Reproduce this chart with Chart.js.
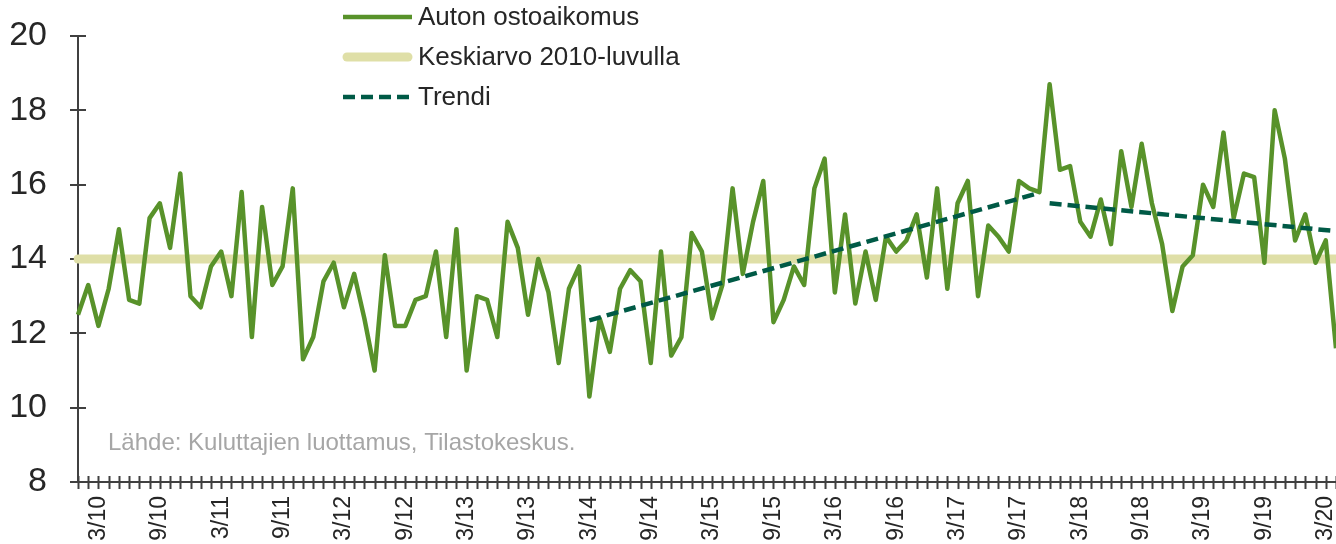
<!DOCTYPE html>
<html>
<head>
<meta charset="utf-8">
<script src="https://cdn.jsdelivr.net/npm/chart.js@4"></script>
<style>
  html, body { margin: 0; padding: 0; background: #fff; }
</style>
</head>
<body>
<canvas id="myChart" width="1336" height="544"></canvas>
<script>
'use strict';

// kuukausittain 1/2010 - 4/2020
let startYear = 2010;
let monthCount = 124;
let monthLabels = [];
for (let i = 0; i < monthCount; i++) {
    let m = (i % 12) + 1;
    let yy = (startYear + Math.floor(i / 12)) % 100;
    monthLabels.push(m + '/' + String(yy).padStart(2, '0'));
}
let shownMonths = [3, 9];

let seriesNames = ['Auton ostoaikomus', 'Keskiarvo 2010-luvulla', 'Trendi'];

let carPurchase = [
    12.5, 13.3, 12.2, 13.2, 14.8, 12.9, 12.8, 15.1, 15.5, 14.3, 16.3, 13.0,
    12.7, 13.8, 14.2, 13.0, 15.8, 11.9, 15.4, 13.3, 13.8, 15.9, 11.3, 11.9,
    13.4, 13.9, 12.7, 13.6, 12.4, 11.0, 14.1, 12.2, 12.2, 12.9, 13.0, 14.2,
    11.9, 14.8, 11.0, 13.0, 12.9, 11.9, 15.0, 14.3, 12.5, 14.0, 13.1, 11.2,
    13.2, 13.8, 10.3, 12.4, 11.5, 13.2, 13.7, 13.4, 11.2, 14.2, 11.4, 11.9,
    14.7, 14.2, 12.4, 13.3, 15.9, 13.6, 15.0, 16.1, 12.3, 12.9, 13.8, 13.3,
    15.9, 16.7, 13.1, 15.2, 12.8, 14.2, 12.9, 14.6, 14.2, 14.5, 15.2, 13.5,
    15.9, 13.2, 15.5, 16.1, 13.0, 14.9, 14.6, 14.2, 16.1, 15.9, 15.8, 18.7,
    16.4, 16.5, 15.0, 14.6, 15.6, 14.4, 16.9, 15.4, 17.1, 15.5, 14.4, 12.6,
    13.8, 14.1, 16.0, 15.4, 17.4, 15.1, 16.3, 16.2, 13.9, 18.0, 16.7, 14.5,
    15.2, 13.9, 14.5, 11.6
];

let average2010s = 14.0;

// trendin päätepisteet [kuukausi-indeksi, arvo]
let trendRise = [[50, 12.35], [94, 15.78]];
let trendFall = [[95, 15.5], [123, 14.75]];

let yTicks = [8, 10, 12, 14, 16, 18, 20];

let fontFamily = "'Liberation Sans', Arial, sans-serif";
let axisColor = '#404040';
let textColor = '#262626';

function pointsToSeries(points) {
    let arr = new Array(monthCount).fill(null);
    points.forEach(function (p) { arr[p[0]] = p[1]; });
    return arr;
}

let averageLine = pointsToSeries([[0, average2010s], [monthCount - 1, average2010s]]);

let axisTicks = {
    id: 'axisTicks',
    beforeDatasetsDraw(chart) {
        let ctx = chart.ctx;
        let xs = chart.scales.x;
        let ys = chart.scales.y;
        ctx.save();
        ctx.strokeStyle = axisColor;
        ctx.lineWidth = 2;
        ctx.beginPath();
        for (let i = 0; i < monthCount; i++) {
            let px = Math.round(xs.getPixelForValue(i)) + 0.5;
            ctx.moveTo(px, ys.bottom - 6);
            ctx.lineTo(px, ys.bottom + 7);
        }
        yTicks.forEach(function (v) {
            let py = Math.round(ys.getPixelForValue(v));
            ctx.moveTo(xs.left - 8, py);
            ctx.lineTo(xs.left + 8, py);
        });
        ctx.stroke();
        ctx.restore();
    },
    afterDraw(chart) {
        let ctx = chart.ctx;
        let ds = chart.data.datasets;
        ctx.save();
        let rowsY = [17, 57, 97];
        for (let i = 0; i < 3; i++) {
            let d = ds[i];
            ctx.beginPath();
            ctx.strokeStyle = d.borderColor;
            ctx.lineWidth = d.borderWidth;
            ctx.lineCap = d.borderCapStyle || 'butt';
            ctx.setLineDash(d.borderDash || []);
            let x0 = i === 1 ? 347 : 343;
            let x1 = i === 1 ? 408 : 412;
            ctx.moveTo(x0, rowsY[i]);
            ctx.lineTo(x1, rowsY[i]);
            ctx.stroke();
            ctx.setLineDash([]);
            ctx.fillStyle = textColor;
            ctx.font = '26px ' + fontFamily;
            ctx.textBaseline = 'middle';
            ctx.textAlign = 'left';
            ctx.fillText(seriesNames[i], 418, rowsY[i] + 1);
        }
        ctx.fillStyle = '#a6a6a6';
        ctx.font = '24px ' + fontFamily;
        ctx.fillText('Lähde: Kuluttajien luottamus, Tilastokeskus.', 108, 443);
        ctx.restore();
    }
};

let ctx = document.getElementById('myChart').getContext('2d');
let myChart = new Chart(ctx, {
    type: 'line',
    data: {
        labels: monthLabels,
        datasets: [{
            label: seriesNames[0],
            data: carPurchase,
            borderColor: '#58922a',
            borderWidth: 4.5,
            borderJoinStyle: 'round',
            order: 1
        },
        {
            label: seriesNames[1],
            data: averageLine,
            borderColor: '#dfdfa7',
            borderWidth: 9,
            borderCapStyle: 'round',
            spanGaps: true,
            order: 2
        },
        {
            label: seriesNames[2],
            data: pointsToSeries(trendRise),
            borderColor: '#005a46',
            borderWidth: 4.5,
            borderDash: [12, 6],
            spanGaps: true,
            order: 0
        },
        {
            label: seriesNames[2],
            data: pointsToSeries(trendFall),
            borderColor: '#005a46',
            borderWidth: 4.5,
            borderDash: [12, 6],
            spanGaps: true,
            order: 0
        }]
    },
    options: {
        responsive: false,
        animation: false,
        devicePixelRatio: 1,
        layout: { padding: { top: 36, left: 0, right: 0, bottom: 0 } },
        elements: { point: { radius: 0 }, line: { tension: 0 } },
        plugins: {
            legend: { display: false },
            tooltip: { enabled: false }
        },
        scales: {
            x: {
                type: 'category',
                offset: false,
                grid: { display: false, drawTicks: false },
                border: { display: true, color: axisColor, width: 2 },
                ticks: {
                    autoSkip: false,
                    maxRotation: 90,
                    minRotation: 90,
                    padding: 14,
                    color: textColor,
                    font: { family: fontFamily, size: 23 },
                    callback: function (val, idx) {
                        let m = (idx % 12) + 1;
                        return shownMonths.includes(m) ? monthLabels[idx] : '';
                    }
                },
                afterFit: function (scale) {
                    scale.height = 62;
                    scale.paddingLeft = 0;
                    scale.paddingRight = 0;
                }
            },
            y: {
                min: 8,
                max: 20,
                grid: { display: false, drawTicks: false },
                border: { display: true, color: axisColor, width: 2 },
                afterBuildTicks: function (scale) {
                    scale.ticks = yTicks.map(function (v) { return { value: v }; });
                },
                ticks: {
                    padding: 31,
                    color: textColor,
                    font: { family: fontFamily, size: 34 }
                },
                afterFit: function (scale) {
                    scale.width = 78;
                    scale.paddingTop = 0;
                    scale.paddingBottom = 0;
                }
            }
        }
    },
    plugins: [axisTicks]
});
</script>
</body>
</html>
